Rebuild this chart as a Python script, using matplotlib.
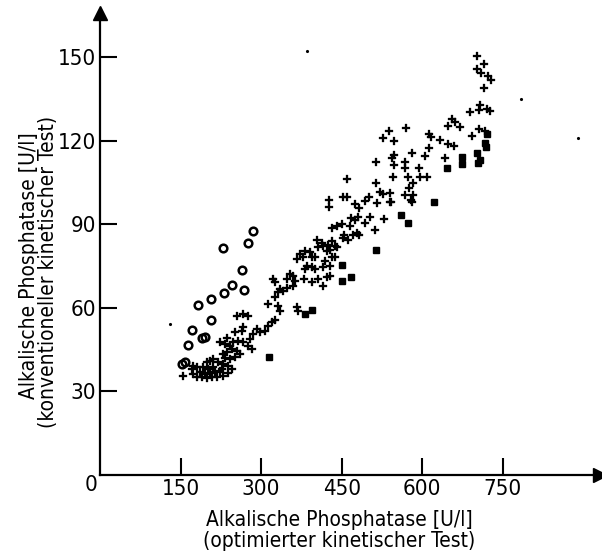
import matplotlib.pyplot as plt
from matplotlib import font_manager

# look for a narrow face, the original uses a condensed DIN-like lettering
narrow = [f for f in font_manager.fontManager.ttflist
          if 'Narrow' in f.name or 'Condensed' in f.name or f.stretch in ('condensed', 'semi-condensed', 'extra-condensed')]
if narrow:
    FONT = narrow[0].name
    STRETCH = narrow[0].stretch
    FS = 16
    LFS = 15
else:
    FONT = 'DejaVu Sans'
    STRETCH = 'normal'
    FS = 13
    LFS = 12
plt.rcParams['font.family'] = [FONT, 'DejaVu Sans']
plt.rcParams['font.stretch'] = STRETCH

# optimised kinetic test (x) vs conventional kinetic test (y), U/l
plus_x = [255, 266, 275, 266, 264, 251, 292, 297, 284, 279, 236, 223, 232, 242, 247, 257, 266, 275,
          283, 245, 255, 236, 229, 260, 251, 242, 232, 210, 204, 199, 219, 229, 238, 245, 173, 180,
          171, 191, 201, 210, 186, 195, 204, 214, 223, 173, 180, 190, 199, 208, 217, 229, 238, 154,
          227,
          468, 474, 480, 450, 441, 431, 465, 455, 452, 470, 478, 483, 461, 493, 403, 413, 415, 405,
          424, 431, 437, 441, 422, 428, 381, 390, 372, 400, 394, 377, 366, 431, 437, 418, 428, 415,
          385, 394, 400, 381, 353, 359, 349, 363, 379, 394, 405, 422, 428, 415, 322, 325, 335, 340,
          331, 348, 359, 312, 325, 331, 335, 366, 368, 325, 320, 312, 307,
          459, 426, 426, 452, 459, 474, 483, 493, 500, 502, 528, 511, 515, 539, 580, 521, 526, 539,
          541, 567, 582, 578, 513, 576, 582, 545, 574, 595, 608, 547, 567, 593, 513, 567, 547, 543,
          580, 604, 612, 643, 647, 658, 632, 612, 617, 692, 537, 569, 526, 547, 647, 671, 656, 660,
          688, 705, 716, 708, 705, 721, 725, 714, 723, 727, 701, 710, 701, 714]
plus_y = [57.1, 57.8, 57.1, 53.2, 51.8, 51.4, 52.5, 51.4, 50.7, 48.9, 49.3, 47.8, 47.1, 46.4, 47.8,
          48.2, 47.8, 46.4, 45.3, 45.3, 44.6, 44.3, 43.6, 43.6, 42.5, 41.8, 42.1, 41.8, 41.1, 40.7,
          40.7, 40.0, 39.3, 38.2, 39.3, 38.9, 38.2, 38.9, 38.2, 38.9, 37.1, 36.4, 36.8, 37.1, 37.5,
          36.4, 35.3, 35.3, 35.0, 35.3, 35.3, 35.7, 36.8, 35.7,
          38.2,
          92.5, 91.7, 92.8, 90.0, 89.3, 88.9, 89.3, 86.4, 85.3, 86.4, 87.1, 86.4, 84.6, 90.7, 84.6,
          83.5, 82.1, 81.8, 82.8, 83.9, 82.1, 81.8, 80.3, 81.0, 80.3, 80.0, 79.3, 78.5, 78.2, 78.2,
          77.5, 78.2, 78.5, 76.8, 75.0, 74.6, 75.0, 74.6, 73.9, 73.9, 72.1, 71.4, 70.3, 69.6, 70.3,
          69.3, 70.3, 71.0, 71.4, 67.8, 70.3, 69.3, 66.8, 66.0, 65.7, 67.1, 67.8, 61.4, 63.9, 60.7,
          58.9, 60.3, 58.9, 55.7, 55.0, 53.5, 51.8,
          106.4, 98.9, 96.4, 100.0, 100.0, 97.5, 96.0, 98.5, 100.0, 92.8, 92.1, 88.2, 97.8, 98.2,
          98.2, 101.7, 101.0, 101.4, 98.2, 100.7, 100.7, 98.9, 105.0, 103.2, 105.0, 107.0, 107.0,
          107.0, 107.0, 111.4, 110.3, 110.3, 112.5, 112.5, 115.0, 113.9, 115.7, 114.6, 117.5, 113.9,
          118.9, 118.2, 120.3, 122.5, 121.4, 121.7, 123.5, 124.6, 121.0, 120.0, 125.3, 125.0, 127.8,
          127.0, 130.3, 124.2, 123.5, 133.0, 131.0, 131.4, 130.7, 139.0, 143.5, 142.0, 146.0, 144.6,
          150.7, 147.8]

circle_x = [284, 275, 229, 264, 245, 231, 268, 206, 182, 206, 171, 195, 190, 164, 158, 152]
circle_y = [87.8, 83.5, 81.4, 73.5, 68.2, 65.3, 66.4, 63.2, 61.0, 55.7, 52.1, 49.6, 49.3, 46.8, 40.7, 40.0]

square_x = [314, 381, 394, 450, 467, 450, 513, 560, 573, 622, 645, 673, 673, 701, 703, 708, 716, 719, 721]
square_y = [42.5, 57.8, 59.3, 69.6, 71.0, 75.3, 80.7, 93.5, 90.7, 98.0, 110.3, 114.2, 111.7, 115.7,
            112.0, 113.2, 119.2, 117.8, 122.5]

dot_x = [130, 385, 784, 890]
dot_y = [54.3, 152.4, 135.0, 121.0]

xticks = [150, 300, 450, 600, 750]
yticks = [30, 60, 90, 120, 150]

fig = plt.figure(figsize=(6.02, 5.54), dpi=100)
ax = fig.add_axes([0.1661, 0.1426, 0.83, 0.834])

ax.plot(plus_x, plus_y, 'P', color='black', markersize=5.5, markeredgewidth=0.2, linestyle='none')
ax.plot(circle_x, circle_y, 'o', markerfacecolor='none', markeredgecolor='black', markersize=5.5,
        markeredgewidth=1.8, linestyle='none')
ax.plot(square_x, square_y, 's', color='black', markersize=5, linestyle='none')
ax.plot(dot_x, dot_y, '.', color='black', markersize=2.5, linestyle='none')

ax.set_xlim(0, 930)
ax.set_ylim(0, 166)
ax.spines['top'].set_visible(False)
ax.spines['right'].set_visible(False)
for s in ['left', 'bottom']:
    ax.spines[s].set_linewidth(1.6)

# arrow heads at the axis ends
ax.plot(1, 0, '>', color='black', markersize=10, transform=ax.transAxes, clip_on=False)
ax.plot(0, 1, '^', color='black', markersize=10, transform=ax.transAxes, clip_on=False)

ax.set_xticks(xticks)
ax.set_yticks(yticks)
ax.tick_params(direction='in', length=12.5, width=1.5, labelsize=FS, pad=3)

fig.text(91 / 602, 1 - 485 / 554, '0', fontsize=FS, ha='center', va='center')
fig.text(339 / 602, 1 - 520 / 554, 'Alkalische Phosphatase [U/l]', fontsize=LFS, ha='center', va='center')
fig.text(339 / 602, 1 - 541 / 554, '(optimierter kinetischer Test)', fontsize=LFS, ha='center', va='center')
fig.text(29 / 602, 1 - 266 / 554, 'Alkalische Phosphatase [U/l]', fontsize=LFS, ha='center', va='center',
         rotation=90)
fig.text(48 / 602, 1 - 272 / 554, '(konventioneller kinetischer Test)', fontsize=LFS, ha='center',
         va='center', rotation=90)

fig.savefig('out.png', dpi=100)
